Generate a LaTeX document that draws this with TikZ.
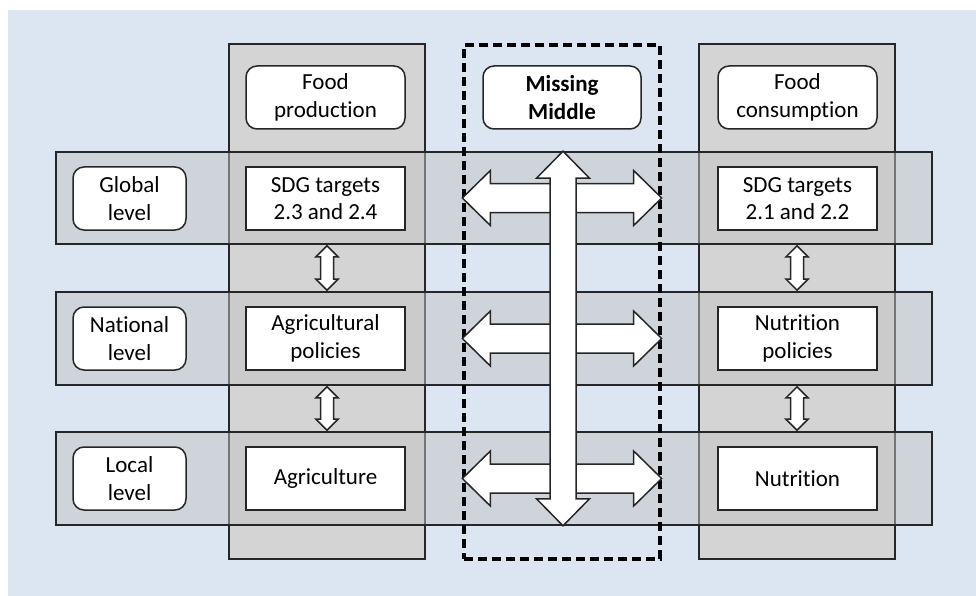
\documentclass[tikz,border=0pt]{standalone}
\usepackage{fontspec}
\setmainfont[Ligatures=NoCommon]{Carlito}
\usetikzlibrary{calc}
\definecolor{bgblue}{HTML}{DCE6F2}
\definecolor{colgray}{HTML}{D4D4D4}
\definecolor{rowgray}{HTML}{C4C4C4}
\definecolor{edge}{HTML}{262626}
\tikzset{
  colbox/.style={draw=edge, line width=1.6pt, fill=colgray, minimum width=196pt, minimum height=515pt, inner sep=0pt},
  rowbox/.style={draw=edge, line width=1.6pt, fill=rowgray, fill opacity=0.5, minimum width=876pt, minimum height=93pt, inner sep=0pt},
  txt/.style={font=\fontsize{23}{27.5}\selectfont, align=center, text=black},
  levelbox/.style={txt, draw=edge, line width=1.5pt, fill=white, rounded corners=11pt, minimum width=113pt, minimum height=63pt, inner sep=0pt},
  headbox/.style={levelbox, minimum width=159pt},
  itembox/.style={txt, draw=edge, line width=1.5pt, fill=white, minimum width=159pt, minimum height=63pt, inner sep=0pt},
  dashbox/.style={draw=black, line width=3.3pt, dash pattern=on 9pt off 5pt, minimum width=196pt, minimum height=514pt, inner sep=0pt},
  blockarrow/.style={draw=edge, line width=1.5pt, fill=white, line join=miter},
}
% vertical double block arrow: #1 top tip, #2 bottom tip, #3 head length, #4 half head width, #5 half shaft width
\newcommand\vblockarrow[5]{%
  \draw[blockarrow] let \p1=#1, \p2=#2 in
    (\x1,\y1) -- ({\x1+#4pt},{\y1-#3pt}) -- ({\x1+#5pt},{\y1-#3pt}) -- ({\x1+#5pt},{\y2+#3pt})
    -- ({\x1+#4pt},{\y2+#3pt}) -- (\x1,\y2) -- ({\x1-#4pt},{\y2+#3pt}) -- ({\x1-#5pt},{\y2+#3pt})
    -- ({\x1-#5pt},{\y1-#3pt}) -- ({\x1-#4pt},{\y1-#3pt}) -- cycle;}
% horizontal double block arrow: #1 left tip, #2 right tip
\newcommand\hblockarrow[5]{%
  \draw[blockarrow] let \p1=#1, \p2=#2 in
    (\x1,\y1) -- ({\x1+#3pt},{\y1+#4pt}) -- ({\x1+#3pt},{\y1+#5pt}) -- ({\x2-#3pt},{\y1+#5pt})
    -- ({\x2-#3pt},{\y1+#4pt}) -- (\x2,\y1) -- ({\x2-#3pt},{\y1-#4pt}) -- ({\x2-#3pt},{\y1-#5pt})
    -- ({\x1+#3pt},{\y1-#5pt}) -- ({\x1+#3pt},{\y1-#4pt}) -- cycle;}
\begin{document}
\begin{tikzpicture}[x=1pt,y=-1pt]
\useasboundingbox (0,0) rectangle (976,596);
\fill[white] (0,0) rectangle (976,596);
\fill[bgblue] (8,10) rectangle (976,596);

% columns
\node[colbox] (colL) at (327,301.5) {};
\node[colbox] (colR) at (797,301.5) {};

% rows
\node[rowbox, minimum height=92pt] (rowG) at (494,198) {};
\node[rowbox] (rowN) at (494,338.5) {};
\node[rowbox] (rowL) at (494,478.5) {};

% dashed missing-middle frame
\node[dashbox] (mid) at (562,302) {};

% header boxes
\node[headbox] (fp) at (325.5,97.5) {Food\\production};
\node[headbox, font=\fontsize{23}{27.5}\selectfont\bfseries, minimum width=158pt] (mm) at (562,97.5) {Missing\\Middle};
\node[headbox] (fc) at (797.5,97.5) {Food\\consumption};

% level boxes
\node[levelbox] (gl) at (129.5,198.5) {Global\\level};
\node[levelbox] (nl) at (129.5,338.5) {National\\level};
\node[levelbox] (ll) at (129.5,478.5) {Local\\level};

% item boxes
\node[itembox] (sdgA) at (325.5,198.5) {SDG targets\\2.3 and 2.4};
\node[itembox] (agpol) at (325.5,338.5) {Agricultural\\policies};
\node[itembox] (agr) at (325.5,478.5) {Agriculture};
\node[itembox] (sdgB) at (797.5,198.5) {SDG targets\\2.1 and 2.2};
\node[itembox] (nupol) at (797.5,338.5) {Nutrition\\policies};
\node[itembox] (nut) at (797.5,478.5) {Nutrition};

% tip coordinates for the big arrows
\coordinate (gW) at (mid.west |- rowG.center);
\coordinate (gE) at (mid.east |- rowG.center);
\coordinate (nW) at (mid.west |- rowN.center);
\coordinate (nE) at (mid.east |- rowN.center);
\coordinate (lW) at (mid.west |- rowL.center);
\coordinate (lE) at (mid.east |- rowL.center);
\coordinate (vT) at ([xshift=1pt]mid.center |- rowG.north);
\coordinate (vB) at ([xshift=1pt]mid.center |- rowL.south);

% horizontal big arrows
\hblockarrow{(gW)}{(gE)}{28}{27.5}{14.5}
\hblockarrow{(nW)}{(nE)}{28}{27.5}{14.5}
\hblockarrow{(lW)}{(lE)}{28}{27.5}{14.5}
% vertical big arrow
\vblockarrow{(vT)}{(vB)}{27}{26.5}{13}

% small arrows between levels
\vblockarrow{([yshift=-1pt]colL.center |- rowG.south)}{([yshift=1pt]colL.center |- rowN.north)}{11}{11}{6.5}
\vblockarrow{([yshift=-1pt]colL.center |- rowN.south)}{([yshift=1pt]colL.center |- rowL.north)}{11}{11}{6.5}
\vblockarrow{([yshift=-1pt]colR.center |- rowG.south)}{([yshift=1pt]colR.center |- rowN.north)}{11}{11}{6.5}
\vblockarrow{([yshift=-1pt]colR.center |- rowN.south)}{([yshift=1pt]colR.center |- rowL.north)}{11}{11}{6.5}
\end{tikzpicture}
\end{document}
